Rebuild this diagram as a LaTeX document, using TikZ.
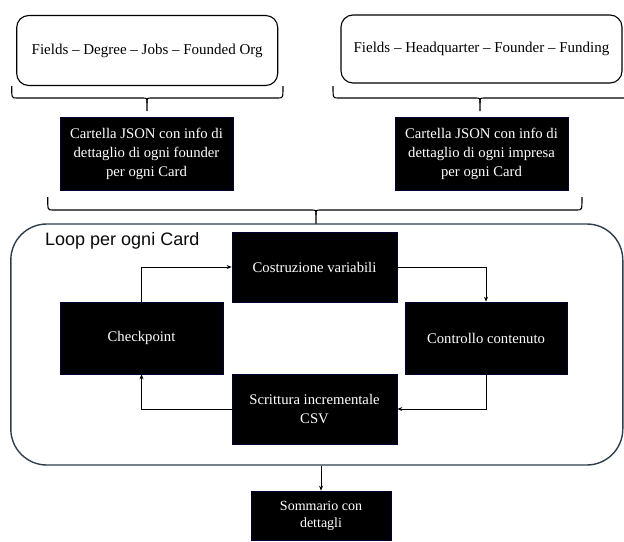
\documentclass[tikz,border=0pt]{standalone}
\usepackage{fontspec}
\setmainfont{Liberation Serif}
\newfontfamily\loopfont{Liberation Sans}
\usetikzlibrary{arrows.meta,positioning}
\definecolor{slate}{HTML}{2E3E4C}
\tikzset{
  inbox/.style={draw=black, line width=1.1pt, rounded corners=12pt, fill=white, font=\fontsize{15}{18}\selectfont, inner sep=0pt},
  blk/.style={fill=black, draw=black!80!blue, line width=0.6pt, text=white, align=center, inner sep=0pt, font=\fontsize{14.7}{19}\selectfont},
  flow/.style={draw=black, line width=0.9pt, -{Stealth[length=5pt,width=4pt]}},
  brace/.style={draw=black, line width=1.1pt},
}
\begin{document}
\begin{tikzpicture}[x=1pt,y=-1pt]
\useasboundingbox (0,0) rectangle (624,541);
% top boxes
\node[inbox, minimum width=261pt, minimum height=70pt] (topL) at (147.2,50.5) {Fields -- Degree -- Jobs -- Founded Org};
\node[inbox, minimum width=281pt, minimum height=68pt] (topR) at (481.5,49) {Fields -- Headquarter -- Founder -- Funding};
% small braces
\coordinate (bL1) at (11.7,86); \coordinate (bLt) at (147,98); \coordinate (bL2) at (283,86);
\draw[brace] (bL1) .. controls (11.7,98) .. (16.7,98) -- (142,98) .. controls (147,98) .. (147,103) -- (147,111);
\draw[brace] (bL2) .. controls (283,98) .. (278,98) -- (152,98) .. controls (147,98) .. (147,103);
\draw[brace] (333,86) .. controls (333,98) .. (338,98) -- (475,98) .. controls (480,98) .. (480,103) -- (480,111);
\draw[brace] (628,86) .. controls (628,98) .. (623,98) -- (485,98) .. controls (480,98) .. (480,103);
% json boxes
\node[blk, minimum width=173pt, minimum height=73pt] (jsonL) at (146.5,153.5) {Cartella JSON con info di\\dettaglio di ogni founder\\per ogni Card};
\node[blk, minimum width=173pt, minimum height=73pt] (jsonR) at (481.5,153.5) {Cartella JSON con info di\\dettaglio di ogni impresa\\per ogni Card};
% big brace
\draw[brace] (47.7,197) .. controls (47.7,210) .. (52.7,210) -- (311,210) .. controls (316,210) .. (316,215) -- (316,224);
\draw[brace] (582,197) .. controls (582,210) .. (577,210) -- (321,210) .. controls (316,210) .. (316,215);
% loop container
\node[draw=slate, line width=1.4pt, rounded corners=36pt, minimum width=612pt, minimum height=241pt, inner sep=0pt] (loop) at (316.8,344.5) {};
\node[anchor=west, font=\loopfont\fontsize{18}{21}\selectfont, text=black!85!slate, inner sep=0pt] (looplbl) at (45,241) {Loop per ogni Card};
% loop boxes
\node[blk, minimum width=165pt, minimum height=70pt] (cos) at (314.5,267) {Costruzione variabili};
\node[blk, minimum width=163pt, minimum height=72pt] (chk) at (141.5,338) {Checkpoint};
\node[blk, minimum width=162pt, minimum height=72pt] (ctl) at (486,338) {Controllo contenuto};
\node[blk, minimum width=165pt, minimum height=70pt] (scr) at (314.5,409) {Scrittura incrementale\\CSV};
\node[blk, minimum width=140pt, minimum height=49pt, font=\fontsize{14}{17}\selectfont] (som) at (321,515.5) {Sommario con\\dettagli};
% connectors
\draw[flow] (chk.north) |- (cos.west);
\draw[flow] (cos.east) -| (ctl.north);
\draw[flow] (ctl.south) |- (scr.east);
\draw[flow] (scr.west) -| (chk.south);
\draw[flow] (som.north |- loop.south) -- (som.north);
\end{tikzpicture}
\end{document}
